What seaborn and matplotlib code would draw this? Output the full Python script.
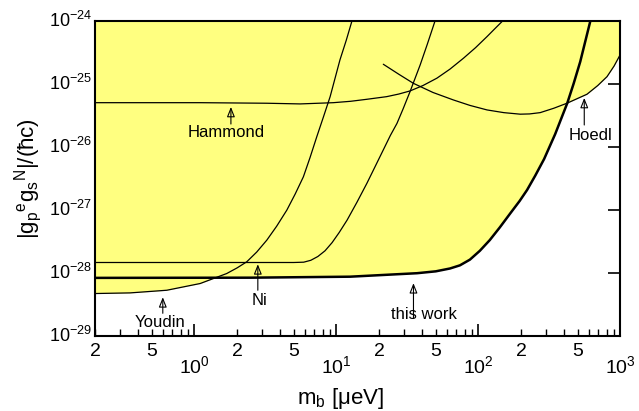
import numpy as np
import pandas as pd
import matplotlib
matplotlib.use('Agg')
import matplotlib.pyplot as plt
import matplotlib.ticker as mticker
import seaborn as sns

# Limits on |g_p^e g_s^N| versus boson mass
m_this = [0.2, 2.5, 12.5, 37, 50.1, 63.1, 74.1, 87.1, 102.3, 120.2, 141.3,
          167.5, 195, 220, 251, 290, 347, 422, 468, 521, 612]
g_this = [8.34e-29, 8.40e-29, 8.71e-29, 9.89e-29, 1.059e-28, 1.175e-28,
          1.318e-28, 1.622e-28, 2.239e-28, 3.311e-28, 5.248e-28, 8.77e-28,
          1.38e-27, 2.06e-27, 3.47e-27, 6.38e-27, 1.585e-26, 4.89e-26,
          1.0e-25, 2.23e-25, 9.6e-25]

m_youdin = [0.2, 0.353, 0.64, 1.10, 1.69, 2.0, 2.34, 2.75, 3.24, 3.80, 4.48,
            5.13, 5.86, 6.53, 7.28, 8.13, 9.04, 10.6, 11.75, 12.9]
g_youdin = [4.71e-29, 4.82e-29, 5.31e-29, 6.79e-29, 9.77e-29, 1.20e-28,
            1.50e-28, 2.14e-28, 3.31e-28, 5.50e-28, 9.89e-28, 1.78e-27,
            3.34e-27, 6.76e-27, 1.44e-26, 3.02e-26, 6.22e-26, 2.38e-25,
            4.90e-25, 1.0e-24]

m_ni = [0.2, 5.01, 5.89, 6.61, 7.41, 8.32, 9.33, 10.47, 11.9, 13.96, 16.4,
        18.6, 21.4, 24.0, 26.7, 29.5, 33.0, 38.9, 43.6, 49.6]
g_ni = [1.462e-28, 1.462e-28, 1.479e-28, 1.585e-28, 1.82e-28, 2.24e-28,
        3.02e-28, 4.37e-28, 6.87e-28, 1.318e-27, 2.63e-27, 4.68e-27,
        8.91e-27, 1.51e-26, 2.34e-26, 3.98e-26, 7.46e-26, 1.98e-25,
        4.17e-25, 1.0e-24]

m_hammond = [0.2, 1.10, 3.24, 5.56, 9.51, 12.6, 16.4, 22.6, 27.5, 33.0,
             40.7, 51.0, 63.1, 78.5, 95.5, 115, 131.8, 149]
g_hammond = [4.99e-26, 4.99e-26, 4.89e-26, 4.77e-26, 4.99e-26, 5.25e-26,
             5.65e-26, 6.22e-26, 6.84e-26, 7.66e-26, 9.33e-26, 1.22e-25,
             1.70e-25, 2.53e-25, 3.72e-25, 5.57e-25, 7.59e-25, 1.0e-24]

m_hoedl = [21.4, 27.5, 34.9, 47.9, 66.7, 87.1, 115, 151, 197, 229, 272, 339,
           420, 581, 692, 804, 902, 1000]
g_hoedl = [2.03e-25, 1.41e-25, 1.01e-25, 7.24e-26, 5.51e-26, 4.52e-26,
           3.83e-26, 3.47e-26, 3.28e-26, 3.31e-26, 3.47e-26, 4.07e-26,
           4.89e-26, 6.79e-26, 9.33e-26, 1.29e-25, 1.905e-25, 2.93e-25]

# axis ticks
x_major = [1, 10, 100, 1000]
x_minor = [k * 10.0 ** d for d in range(-1, 3) for k in range(2, 10)
           if 0.2 <= k * 10.0 ** d <= 1000]
y_major = [1e-29, 1e-28, 1e-27, 1e-26, 1e-25, 1e-24]

# annotation labels: text position, arrow x, arrow tip y, arrow tail y
ann_text = ['Hammond', 'Ni', 'Youdin', 'this work', 'Hoedl']
ann_tx = [1.67, 2.90, 0.574, 41.1, 612]
ann_ty = [1.66e-26, 3.66e-29, 1.66e-29, 2.21e-29, 1.53e-26]
ann_ax = [1.81, 2.80, 0.60, 34.9, 556]
ann_tip = [4.27e-26, 1.37e-28, 4.11e-29, 6.87e-29, 5.93e-26]
ann_tail = [2.29e-26, 5.31e-29, 2.29e-29, 1.91e-29, 2.21e-26]

yellow = '#ffff80'

sns.set_theme(style='ticks')
plt.rcParams['font.family'] = ['Liberation Sans', 'DejaVu Sans']
plt.rcParams['mathtext.default'] = 'regular'
plt.rcParams['axes.unicode_minus'] = False
plt.rcParams['text.color'] = 'black'
plt.rcParams['axes.labelcolor'] = 'black'

fig = plt.figure(figsize=(6.39, 4.11), dpi=100)
ax = fig.add_axes([0.1487, 0.1825, 0.8223, 0.7675])
ax.set_xscale('log')
ax.set_yscale('log')

# excluded region = everything above the lowest limit
top = 1e-24
for mx, gy in [(m_youdin, g_youdin), (m_this, g_this), (m_hoedl, g_hoedl)]:
    ax.fill_between(mx, gy, top, color=yellow, lw=0, zorder=1)

curves = pd.concat([
    pd.DataFrame({'m': m_youdin, 'g': g_youdin, 'exp': 'Youdin'}),
    pd.DataFrame({'m': m_ni, 'g': g_ni, 'exp': 'Ni'}),
    pd.DataFrame({'m': m_hammond, 'g': g_hammond, 'exp': 'Hammond'}),
    pd.DataFrame({'m': m_hoedl, 'g': g_hoedl, 'exp': 'Hoedl'}),
], ignore_index=True)

for name, sub in curves.groupby('exp'):
    sns.lineplot(data=sub, x='m', y='g', ax=ax, color='black', lw=0.9,
                 estimator=None, sort=False, zorder=3)
sns.lineplot(x=m_this, y=g_this, ax=ax, color='black', lw=1.8,
             estimator=None, sort=False, zorder=4)

for i in range(len(ann_text)):
    ax.text(ann_tx[i], ann_ty[i], ann_text[i], fontsize=12, ha='center',
            va='center', color='black', zorder=5)
    ax.annotate('', xy=(ann_ax[i], ann_tip[i]), xytext=(ann_ax[i], ann_tail[i]),
                arrowprops=dict(arrowstyle='-|>,head_length=0.5,head_width=0.2',
                                fc='none', ec='black', lw=0.8,
                                shrinkA=0, shrinkB=0), zorder=5)

ax.set_xlim(0.2, 1000)
ax.set_ylim(1e-29, 1e-24)

ax.xaxis.set_major_locator(mticker.FixedLocator(x_major))
ax.xaxis.set_minor_locator(mticker.FixedLocator(x_minor))
ax.xaxis.set_major_formatter(mticker.LogFormatterSciNotation())


def minor_fmt(v, pos):
    mant = v / 10 ** np.floor(np.log10(v) + 1e-9)
    if abs(mant - 2) < 1e-6 or abs(mant - 5) < 1e-6:
        return str(int(round(mant)))
    return ''


ax.xaxis.set_minor_formatter(mticker.FuncFormatter(minor_fmt))
ax.yaxis.set_major_locator(mticker.FixedLocator(y_major))
ax.yaxis.set_major_formatter(mticker.LogFormatterSciNotation())
ax.yaxis.set_minor_locator(mticker.NullLocator())

ax.tick_params(which='both', direction='in', top=True, right=True,
               labelsize=14, color='black', labelcolor='black')
ax.tick_params(which='major', length=8.5, width=1.2)
ax.tick_params(which='minor', length=5, width=1.0)
ax.tick_params(axis='x', which='major', pad=14)
ax.tick_params(axis='x', which='minor', pad=5)
ax.tick_params(axis='y', which='major', pad=2, labelsize=13)

for s in ax.spines.values():
    s.set_linewidth(1.5)
    s.set_color('black')
    s.set_visible(True)

ax.set_xlabel(r'$m_b$ [μeV]', fontsize=16)
ax.xaxis.set_label_coords((340 - 95) / 525, -0.16)
ax.set_ylabel(r'$|g_p{}^e g_s{}^N|/(ħc)$', fontsize=16, labelpad=4)

# centre the whole label (with exponent) on the tick, as in the original
plt.setp(ax.get_yticklabels(), va='center')

fig.savefig('out.png', dpi=100)
